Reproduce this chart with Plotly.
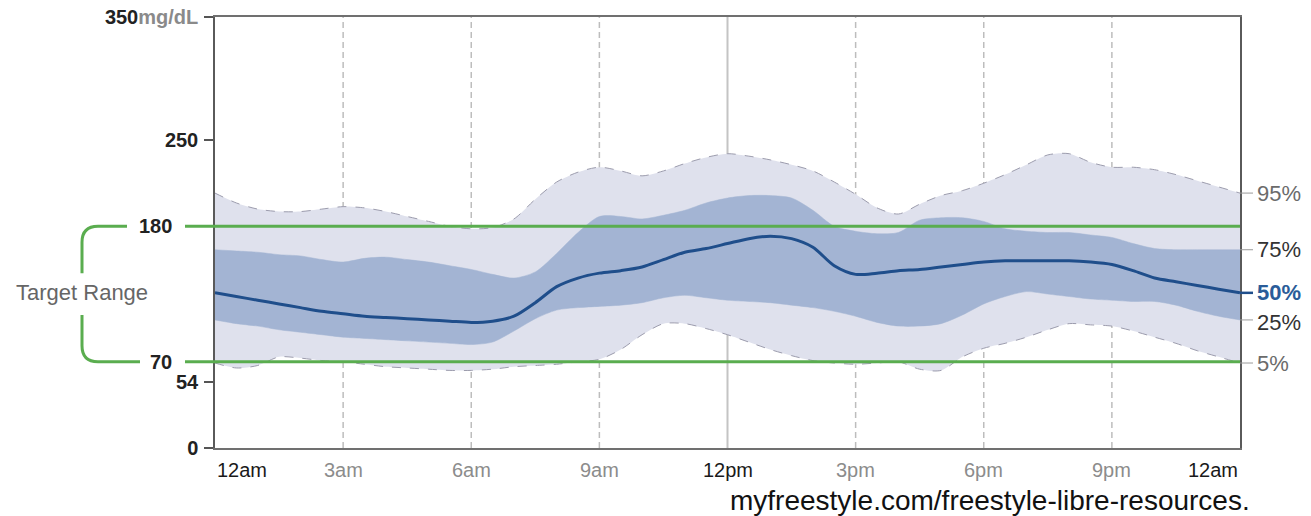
import plotly.graph_objects as go

# Ambulatory glucose profile (mg/dL) over a 24-hour day, half-hour steps
hours = [i * 0.5 for i in range(49)]

p95 = [207, 199, 194, 192, 192, 194, 196, 195, 192, 188, 184, 180, 178, 179, 186, 202,
       216, 224, 228, 225, 221, 225, 231, 236, 239, 237, 234, 230, 225, 216, 206, 195,
       190, 198, 205, 209, 215, 222, 230, 238, 239, 232, 228, 228, 226, 222, 217, 212, 207]
p75 = [161, 160, 159, 157, 156, 153, 151, 154, 155, 153, 151, 148, 145, 141, 138, 143,
       158, 175, 188, 188, 186, 189, 193, 199, 203, 205, 205, 203, 193, 180, 176, 174,
       175, 185, 187, 187, 184, 178, 176, 175, 175, 173, 171, 166, 162, 161, 161, 161, 161]
p50 = [126, 123, 120, 117, 114, 111, 109, 107, 106, 105, 104, 103, 102, 103, 107, 118,
       131, 138, 142, 144, 147, 153, 159, 162, 166, 170, 172, 170, 163, 148, 141, 142,
       144, 145, 147, 149, 151, 152, 152, 152, 152, 151, 149, 144, 138, 135, 132, 129, 126]
p25 = [104, 101, 99, 96, 94, 92, 90, 89, 88, 87, 86, 85, 84, 86, 95, 105,
       112, 114, 115, 116, 118, 122, 124, 122, 120, 119, 118, 116, 114, 111, 107, 102,
       99, 99, 101, 108, 117, 123, 127, 125, 123, 121, 120, 119, 119, 116, 111, 107, 104]
p5 = [69, 65, 67, 74, 73, 71, 70, 68, 66, 65, 64, 63, 63, 64, 66, 67,
      68, 70, 72, 80, 92, 101, 101, 97, 92, 86, 80, 75, 71, 69, 68, 69,
      70, 64, 63, 74, 81, 85, 90, 96, 101, 100, 99, 95, 90, 85, 79, 74, 69]

target_low, target_high = 70, 180
y_ticks = [0, 54, 250, 350]
y_tick_text = ["<b>0</b>", "<b>54</b>", "<b>250</b>",
               "<b>350<span style='color:#8a8a8a'>mg/dL</span></b>"]
x_ticks = [0, 3, 6, 9, 12, 15, 18, 21, 24]
x_tick_text = ["12am", "3am", "6am", "9am", "12pm", "3pm", "6pm", "9pm", "12am"]
pct_labels = ["95%", "75%", "50%", "25%", "5%"]

FONT = "Arial, Liberation Sans, sans-serif"
LIGHT = "#dfe1ed"
DARK = "#a3b4d3"
MEDIAN = "#1f4e8b"
GREEN = "#5aad4f"

W, H = 1311, 516
L, R, T, B = 215, 71, 17, 68
PW = W - L - R


def px_to_paper_x(px):
    return (px - L) / PW


fig = go.Figure()

# 5-95% band with dashed outline
fig.add_trace(go.Scatter(x=hours, y=p5, mode="lines",
                         line=dict(color="#9c9cad", width=1, dash="dash", shape="spline", smoothing=0.8),
                         hoverinfo="skip", showlegend=False))
fig.add_trace(go.Scatter(x=hours, y=p95, mode="lines", fill="tonexty", fillcolor=LIGHT,
                         line=dict(color="#9c9cad", width=1, dash="dash", shape="spline", smoothing=0.8),
                         hoverinfo="skip", showlegend=False))
# 25-75% band
fig.add_trace(go.Scatter(x=hours, y=p25, mode="lines",
                         line=dict(color=DARK, width=0.5, shape="spline", smoothing=0.8),
                         hoverinfo="skip", showlegend=False))
fig.add_trace(go.Scatter(x=hours, y=p75, mode="lines", fill="tonexty", fillcolor=DARK,
                         line=dict(color=DARK, width=0.5, shape="spline", smoothing=0.8),
                         hoverinfo="skip", showlegend=False))
# median
fig.add_trace(go.Scatter(x=hours, y=p50, mode="lines",
                         line=dict(color=MEDIAN, width=3, shape="spline", smoothing=0.8),
                         hoverinfo="skip", showlegend=False))

shapes = []
# vertical hour grid lines
for h in x_ticks[1:-1]:
    if h == 12:
        shapes.append(dict(type="line", xref="x", yref="paper", x0=h, x1=h, y0=0, y1=1,
                           line=dict(color="#c4c4c4", width=2), layer="below"))
    else:
        shapes.append(dict(type="line", xref="x", yref="paper", x0=h, x1=h, y0=0, y1=1,
                           line=dict(color="#bdbdbd", width=1.5, dash="6px,4px"), layer="below"))

# target range lines
for v in (target_low, target_high):
    shapes.append(dict(type="line", xref="paper", yref="y", x0=px_to_paper_x(185), x1=1,
                       y0=v, y1=v, line=dict(color=GREEN, width=3), layer="above"))

# target range bracket
ypx = 350 / (H - T - B)  # mg/dL per pixel
r = 16
xb = px_to_paper_x(82)
xr = px_to_paper_x(82 + r)
xt_end = px_to_paper_x(127)
xb_end = px_to_paper_x(140)
top_path = (f"M {xt_end},{target_high} L {xr},{target_high} "
            f"Q {xb},{target_high} {xb},{target_high - r * ypx} L {xb},142")
bot_path = (f"M {xb},108 L {xb},{target_low + r * ypx} "
            f"Q {xb},{target_low} {xr},{target_low} L {xb_end},{target_low}")
for p in (top_path, bot_path):
    shapes.append(dict(type="path", xref="paper", yref="y", path=p,
                       line=dict(color=GREEN, width=3)))

# percentile leader ticks on the right
ends = [p95[-1], p75[-1], p50[-1], p25[-1], p5[-1]]
for v, lab in zip(ends, pct_labels):
    col = MEDIAN if lab == "50%" else "#9a9a9a"
    w = 2.5 if lab == "50%" else 1
    shapes.append(dict(type="line", xref="paper", yref="y", x0=1, x1=1 + 13 / PW,
                       y0=v, y1=v, line=dict(color=col, width=w)))

annotations = []
# percentile labels
pct_colors = ["#6b6b6b", "#333333", "#2a5c99", "#333333", "#6b6b6b"]
pct_shift = [0, 0, 0, -3, 0]
for v, lab, c, s in zip(ends, pct_labels, pct_colors, pct_shift):
    txt = f"<b>{lab}</b>" if lab == "50%" else lab
    annotations.append(dict(x=1 + 15 / PW, y=v, xref="paper", yref="y", text=txt,
                            showarrow=False, xanchor="left", yanchor="middle", yshift=s,
                            font=dict(family=FONT, size=22, color=c)))

# target value labels
for v in (target_high, target_low):
    annotations.append(dict(x=px_to_paper_x(174), y=v, xref="paper", yref="y",
                            text=f"<b>{v}</b>", showarrow=False, xanchor="right",
                            yanchor="middle", font=dict(family=FONT, size=20, color="#222222")))
annotations.append(dict(x=px_to_paper_x(82), y=(target_low + target_high) / 2 + 1, xref="paper",
                        yref="y", text="Target Range", showarrow=False, xanchor="center",
                        yanchor="middle", font=dict(family=FONT, size=22, color="#666666")))

# hour labels
for i, (h, lab) in enumerate(zip(x_ticks, x_tick_text)):
    anchor = "left" if i == 0 else ("right" if i == len(x_ticks) - 1 else "center")
    col = "#1a1a1a" if lab in ("12am", "12pm") else "#8c8c8c"
    annotations.append(dict(x=h, y=0, xref="x", yref="paper", text=lab, showarrow=False,
                            xanchor=anchor, yanchor="top", yshift=-9,
                            font=dict(family=FONT, size=20, color=col)))

# source line
annotations.append(dict(x=px_to_paper_x(1252), y=0, xref="paper", yref="paper",
                        text="myfreestyle.com/freestyle-libre-resources.", showarrow=False,
                        xanchor="right", yanchor="top", yshift=-35,
                        font=dict(family=FONT, size=28, color="#111111")))

fig.update_layout(
    width=W, height=H,
    margin=dict(l=L, r=R, t=T, b=B, autoexpand=False),
    paper_bgcolor="white", plot_bgcolor="white",
    shapes=shapes, annotations=annotations,
    xaxis=dict(range=[0, 24], showgrid=False, zeroline=False, showticklabels=False,
               ticks="", showline=True, linecolor="#707070", linewidth=1.5, mirror=True,
               automargin=False),
    yaxis=dict(range=[0, 350], tickvals=y_ticks, ticktext=y_tick_text, showgrid=False,
               zeroline=False, ticks="outside", ticklen=9, tickcolor="#555555", tickwidth=1.5,
               showline=True, linecolor="#5a5a5a", linewidth=1.5, mirror=True,
               ticklabelstandoff=2, automargin=False,
               tickfont=dict(family=FONT, size=20, color="#222222")),
    showlegend=False,
)

fig.write_html("out.html")
